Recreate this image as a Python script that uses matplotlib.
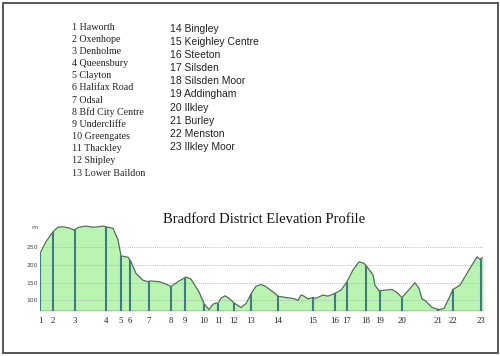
import numpy as np
import matplotlib
matplotlib.use("Agg")
import matplotlib.pyplot as plt
from matplotlib.patches import Rectangle

# ---------------- data ----------------
places_left = ["1 Haworth", "2 Oxenhope", "3 Denholme", "4 Queensbury", "5 Clayton",
               "6 Halifax Road", "7 Odsal", "8 Bfd City Centre", "9 Undercliffe",
               "10 Greengates", "11 Thackley", "12 Shipley", "13 Lower Baildon"]
places_right = ["14 Bingley", "15 Keighley Centre", "16 Steeton", "17 Silsden",
                "18 Silsden Moor", "19 Addingham", "20 Ilkley", "21 Burley",
                "22 Menston", "23 Ilkley Moor"]

# elevation profile (distance along route, arbitrary units ; elevation in m)
distance = [0, 6, 13, 18, 23, 29, 34, 39, 46, 53, 58, 63, 66, 73, 78, 81, 88, 91,
            96, 103, 108, 110, 119, 126, 131, 138, 146, 151, 159, 164, 169, 173,
            176, 178, 181, 185, 189, 194, 201, 206, 211, 216, 221, 226, 229, 234,
            238, 246, 254, 258, 261, 264, 268, 273, 276, 283, 288, 295, 301, 307,
            313, 319, 324, 327, 333, 335, 339, 345, 352, 357, 362, 367, 375, 379,
            382, 385, 392, 399, 404, 409, 413, 420, 429, 437, 440, 443]
elevation = [233, 266, 294, 307, 308, 305, 299, 307, 310, 307, 308, 310, 308, 304,
             271, 226, 222, 209, 176, 157, 153, 155, 153, 146, 139, 153, 166, 160,
             124, 91, 74, 89, 93, 91, 106, 113, 106, 93, 80, 91, 118, 140, 145, 139,
             132, 122, 112, 108, 105, 100, 115, 112, 104, 108, 106, 115, 112, 120,
             129, 153, 186, 209, 205, 195, 172, 143, 127, 129, 131, 122, 108, 124,
             150, 134, 104, 100, 80, 74, 77, 106, 131, 143, 186, 223, 216, 222]

marker_labels = [str(i) for i in range(1, 24)]
marker_dist = [0, 13, 35, 66, 81, 90, 109, 131, 145, 164, 178, 194, 211, 238, 273,
               295, 307, 326, 340, 362, 398, 413, 441]

y_ticks = [100, 150, 200, 250]
title = "Bradford District Elevation Profile"

# ---------------- style ----------------
W, H = 500, 356
fill_col = "#b9f5b1"
line_col = "#4d6f58"
marker_col = "#3e7b82"
grid_col = "#a8a8a8"
text_col = "#222222"
serif = ["Liberation Serif", "DejaVu Serif"]
narrow = ["Liberation Sans Narrow", "Liberation Sans", "DejaVu Sans"]

fig = plt.figure(figsize=(W / 100, H / 100), dpi=100)
fig.patch.set_facecolor("white")

# border
fig.patches.append(Rectangle((3 / W, 1 - 353 / H), 495 / W, 350 / H,
                             transform=fig.transFigure, fill=False,
                             edgecolor="#4a4a4a", linewidth=1.3))

# place list
for i, s in enumerate(places_left):
    fig.text(72 / W, 1 - (29.5 + i * 12.18) / H, s, ha="left", va="baseline",
             fontsize=7.2, family=serif, color=text_col)
for i, s in enumerate(places_right):
    fig.text(170 / W, 1 - (31.7 + i * 13.14) / H, s, ha="left", va="baseline",
             fontsize=7.5, family=narrow, color=text_col)

# title
fig.text(264.5 / W, 1 - 223.3 / H, title, ha="center", va="baseline",
         fontsize=10.5, family=serif, color="#111111")

# profile axes
ymin, ymax = 70, 320
x0, x1 = 40, 483
ybot, ytop = 311, 222.6
ax = fig.add_axes([x0 / W, 1 - ybot / H, (x1 - x0) / W, (ybot - ytop) / H])
ax.set_xlim(0, x1 - x0)
ax.set_ylim(ymin, ymax)
ax.set_facecolor("none")
for sp in ax.spines.values():
    sp.set_visible(False)

ax.fill_between(distance, elevation, ymin, color=fill_col, linewidth=0, zorder=1)
ax.plot(distance, elevation, color=line_col, linewidth=0.9, zorder=4)
tops = np.interp(marker_dist, distance, elevation)
ax.vlines(marker_dist, ymin, tops, color=marker_col, linewidth=1.5, zorder=3)
ax.hlines(y_ticks, 0, x1 - x0, colors=grid_col, linestyles=(0, (1, 1.5)),
          linewidth=0.6, zorder=2)
ax.vlines(x1 - x0, ymin, 250, colors="#c0c0c0", linewidth=0.7, zorder=2)
ax.axhline(ymin, color="#3a5a4a", linewidth=1.0, zorder=5)

ax.set_xticks(marker_dist)
ax.set_xticklabels(marker_labels, family=serif, fontsize=6.3, color=text_col)
ax.set_yticks(y_ticks)
ax.set_yticklabels([str(v) for v in y_ticks], fontsize=4.3, color="#444444")
ax.tick_params(axis="x", length=0, pad=4)
ax.tick_params(axis="y", length=0, pad=1.5)
ax.text(-0.006, 0.94, "m", transform=ax.transAxes, ha="right", va="center",
        fontsize=4.5, color="#444444")

fig.savefig("out.png", dpi=100, facecolor="white")
